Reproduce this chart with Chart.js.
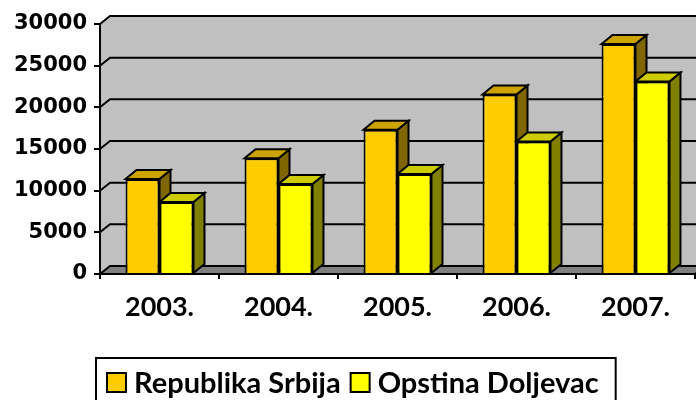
<!DOCTYPE html>
<html>
<head>
<meta charset="utf-8">
<script src="https://cdn.jsdelivr.net/npm/chart.js@4"></script>
<style>
  html, body { margin: 0; padding: 0; background: #ffffff; }
  #wrap { width: 696px; height: 400px; position: relative; }
</style>
</head>
<body>
<div id="wrap"><canvas id="c" width="696" height="400"></canvas></div>
<script>
// ---- data ----
const categories = ["2003.", "2004.", "2005.", "2006.", "2007."];
const seriesNames = ["Republika Srbija", "Opstina Doljevac"];
const srbija = [11400, 13900, 17300, 21550, 27600];
const doljevac = [8650, 10800, 12000, 15900, 23100];
const yTicks = [0, 5000, 10000, 15000, 20000, 25000, 30000];

// ---- styles ----
const frontColors = ["#FFCC00", "#FFFF00"];
const topColors = ["#CCA300", "#CCCC00"];
const sideColors = ["#806600", "#808000"];
const WALL_DX = 10, WALL_DY = -8;
const BAR_DX = 11, BAR_DY = -9;

const wallsPlugin = {
  id: 'walls',
  beforeDraw(chart) {
    const ctx = chart.ctx;
    const a = chart.chartArea;
    const ys = chart.scales.y;
    const L = a.left, R = a.right, T = a.top, B = a.bottom;
    ctx.save();
    ctx.fillStyle = '#C0C0C0';
    ctx.fillRect(L + WALL_DX, T + WALL_DY, R - L + 20, B - T);
    ctx.beginPath();
    ctx.moveTo(L, T); ctx.lineTo(L + WALL_DX, T + WALL_DY);
    ctx.lineTo(L + WALL_DX, B + WALL_DY); ctx.lineTo(L, B); ctx.closePath();
    ctx.fill();
    ctx.fillStyle = '#808080';
    ctx.beginPath();
    ctx.moveTo(L, B); ctx.lineTo(L + WALL_DX, B + WALL_DY);
    ctx.lineTo(R + WALL_DX, B + WALL_DY); ctx.lineTo(R, B); ctx.closePath();
    ctx.fill();
    ctx.strokeStyle = '#000000';
    ctx.lineWidth = 2;
    ctx.beginPath();
    ctx.moveTo(R, B); ctx.lineTo(R + WALL_DX, B + WALL_DY);
    ctx.stroke();
    yTicks.forEach(v => {
      const yf = ys.getPixelForValue(v);
      ctx.beginPath();
      ctx.moveTo(L, yf);
      ctx.lineTo(L + WALL_DX, yf + WALL_DY);
      ctx.lineTo(R + WALL_DX + 20, yf + WALL_DY);
      ctx.stroke();
    });
    ctx.restore();
  },
  beforeDatasetsDraw(chart) {
    const ctx = chart.ctx;
    const n = categories.length;
    ctx.save();
    ctx.strokeStyle = '#000000';
    ctx.lineWidth = 2;
    ctx.lineJoin = 'miter';
    for (let i = 0; i < n; i++) {
      for (let d = 0; d < chart.data.datasets.length; d++) {
        const el = chart.getDatasetMeta(d).data[i];
        const l = el.x - el.width / 2, r = el.x + el.width / 2;
        const t = el.y, b = el.base;
        ctx.fillStyle = sideColors[d];
        ctx.beginPath();
        ctx.moveTo(r, t); ctx.lineTo(r + BAR_DX, t + BAR_DY);
        ctx.lineTo(r + BAR_DX, b + BAR_DY); ctx.lineTo(r, b); ctx.closePath();
        ctx.fill(); ctx.stroke();
        ctx.fillStyle = topColors[d];
        ctx.beginPath();
        ctx.moveTo(l, t); ctx.lineTo(l + BAR_DX, t + BAR_DY);
        ctx.lineTo(r + BAR_DX, t + BAR_DY); ctx.lineTo(r, t); ctx.closePath();
        ctx.fill(); ctx.stroke();
      }
    }
    ctx.restore();
  },
  afterDraw(chart) {
    const ctx = chart.ctx;
    ctx.save();
    ctx.font = 'bold 29px Lato';
    ctx.textBaseline = 'alphabetic';
    const boxLeft = 96, boxTop = 358;
    let x = boxLeft + 11;
    const swTop = 373, sw = 19;
    const baseline = 393;
    chart.data.datasets.forEach((ds, d) => {
      ctx.fillStyle = frontColors[d];
      ctx.fillRect(x, swTop, sw, sw);
      ctx.strokeStyle = '#000';
      ctx.lineWidth = 2;
      ctx.strokeRect(x, swTop, sw, sw);
      x += sw + 8;
      ctx.fillStyle = '#000';
      ctx.fillText(ds.label, x, baseline);
      x += ctx.measureText(ds.label).width + 10;
    });
    const boxRight = x + 7;
    ctx.strokeStyle = '#000';
    ctx.lineWidth = 2;
    ctx.strokeRect(boxLeft, boxTop, boxRight - boxLeft, 60);
    ctx.restore();
  }
};

new Chart(document.getElementById('c'), {
  type: 'bar',
  data: {
    labels: categories,
    datasets: [
      { label: seriesNames[0], data: srbija, backgroundColor: frontColors[0],
        borderColor: '#000', borderWidth: 2, borderSkipped: 'start' },
      { label: seriesNames[1], data: doljevac, backgroundColor: frontColors[1],
        borderColor: '#000', borderWidth: 2, borderSkipped: 'start' }
    ]
  },
  options: {
    responsive: false,
    animation: false,
    layout: { padding: { top: 24, right: 1, left: 0, bottom: 0 } },
    datasets: { bar: { categoryPercentage: 0.571, barPercentage: 1.0 } },
    plugins: { legend: { display: false }, tooltip: { enabled: false } },
    scales: {
      x: {
        grid: { drawOnChartArea: false, drawTicks: true, tickLength: 5, color: '#000', lineWidth: 2, offset: true },
        border: { display: true, color: '#000', width: 2 },
        ticks: { color: '#000', font: { family: 'Lato', weight: 'bold', size: 27 }, padding: 12, maxRotation: 0 },
        afterFit(scale) { scale.height = 126; }
      },
      y: {
        min: 0, max: 30000,
        afterBuildTicks(scale) { scale.ticks = yTicks.map(v => ({ value: v })); },
        grid: { drawOnChartArea: false, drawTicks: true, tickLength: 6, color: '#000', lineWidth: 2 },
        border: { display: true, color: '#000', width: 2 },
        ticks: { color: '#000', font: { family: 'DejaVu Sans', weight: 'bold', size: 21 }, padding: 7,
                 callback: (v) => String(v) },
        afterFit(scale) { scale.width = 100; }
      }
    }
  },
  plugins: [wallsPlugin]
});
</script>
</body>
</html>
